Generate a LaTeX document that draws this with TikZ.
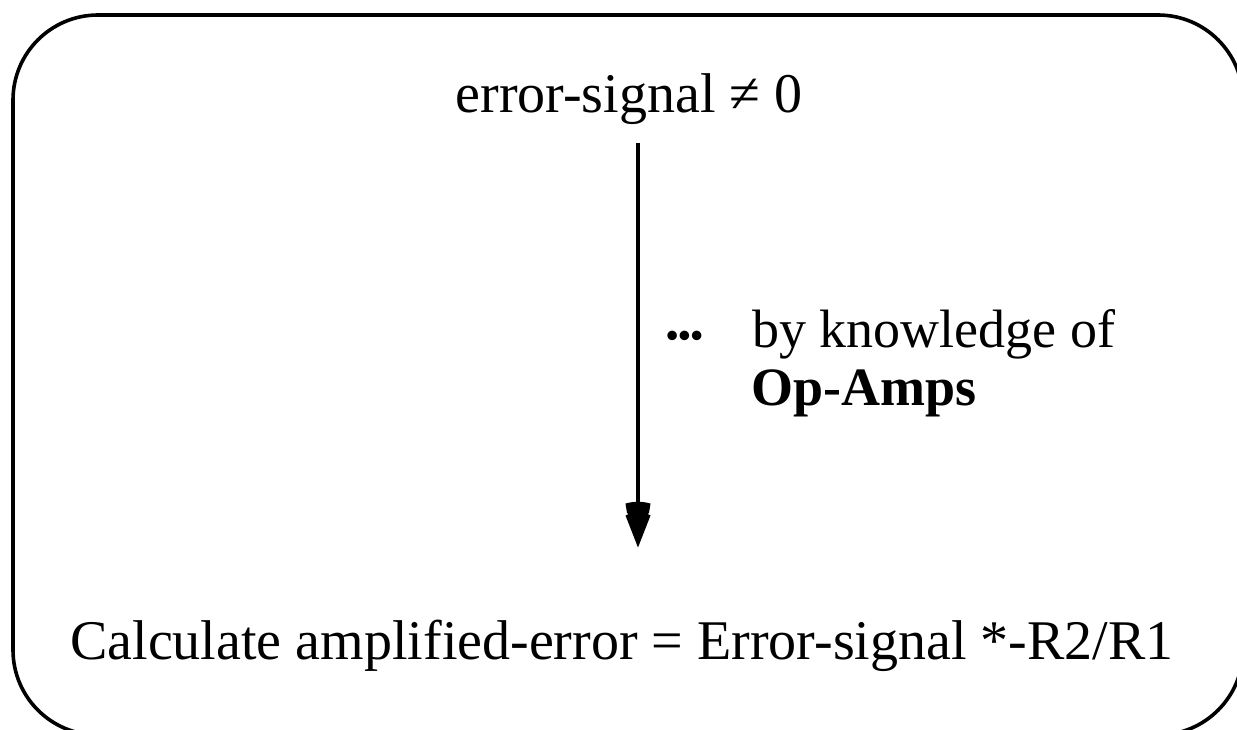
\documentclass[tikz,border=0pt]{standalone}
\usepackage{fontspec}
\setmainfont{Liberation Serif}
\begin{document}
\begin{tikzpicture}[x=1pt,y=-1pt,
  txt/.style={inner sep=0pt,font=\fontsize{56}{60}\selectfont},
  side/.style={inner sep=0pt,anchor=base west,font=\fontsize{54}{58}\selectfont},
  frame/.style={line width=3.6pt,rounded corners=85pt},
  link/.style={line width=3.2pt},
  headfill/.style={fill=black}]
\useasboundingbox (0,0) rectangle (1237,730);
\clip (0,0) rectangle (1237,730);
% outer rounded frame, running off the right and bottom edges
\draw[frame] (13,15) rectangle (1243,735);
% texts
\node[txt,anchor=base] (top) at (629,113) {error-signal ≠ 0};
\node[txt,anchor=base] (bottom) at (622,659) {Calculate amplified-error = Error-signal *-R2/R1};
\node[inner sep=0pt,anchor=base west,font=\fontsize{35}{35}\selectfont\bfseries] (dots) at (666,347) {•••};
\node[side] (how1) at (752,347) {by knowledge of};
\node[side,font=\fontsize{54}{58}\selectfont\bfseries] (how2) at (751,405) {Op-Amps};
% connector with its stacked arrowhead
\coordinate (h) at (638,503);
\draw[link] ([yshift=-18pt]top.south -| h) -- (h);
\fill[headfill,shift={(h)}] (-12.5,0.5) .. controls (-4,-1.8) and (4,-1.8) .. (12.5,0.5)
  -- (11,10) -- (9.5,11) -- (12.5,12.5) -- (0,44.5) -- (-12.5,12.5) -- (-9.5,11) -- (-11,10) -- cycle;
\end{tikzpicture}
\end{document}
